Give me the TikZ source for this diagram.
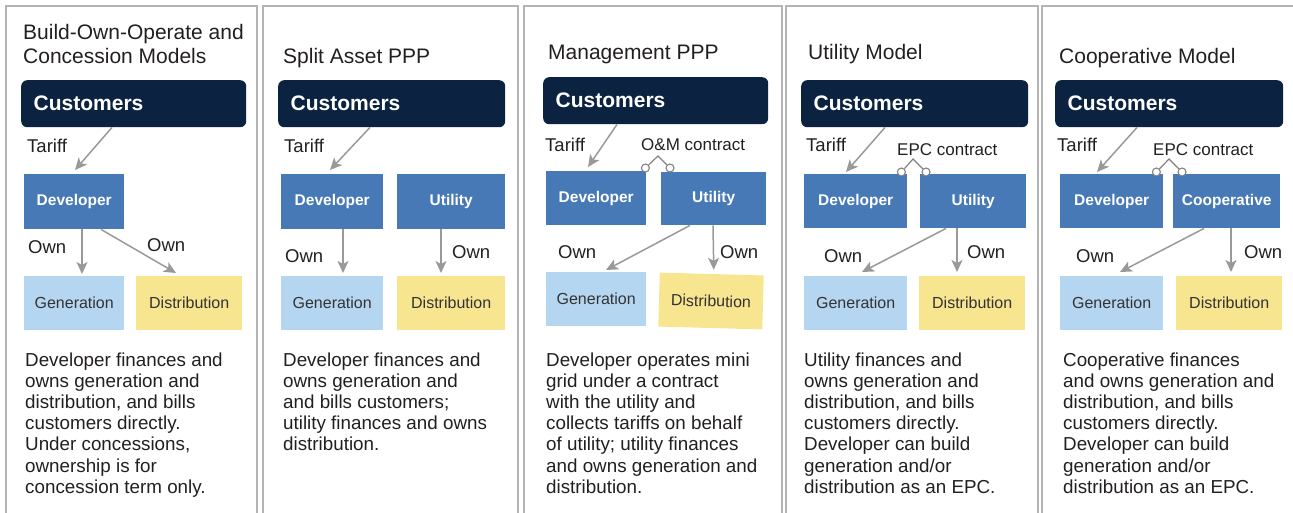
\documentclass[tikz,border=0pt]{standalone}
\usepackage{fontspec}
\setmainfont{Liberation Sans}
\usetikzlibrary{arrows.meta,calc}
\definecolor{navy}{HTML}{0B2341}
\definecolor{steel}{HTML}{4679B5}
\definecolor{genc}{HTML}{B5D6F0}
\definecolor{distc}{HTML}{F8E590}
\definecolor{arrc}{HTML}{999999}
\definecolor{panelc}{HTML}{B4B4B4}
\definecolor{ink}{HTML}{231F20}
\definecolor{boxink}{HTML}{333333}
\begin{document}
\begin{tikzpicture}[x=1pt,y=-1pt,
  panel/.style={draw=panelc,line width=1.5pt},
  cust/.style={anchor=north west,rounded corners=6pt,fill=navy,text=white,
    font=\fontsize{21}{24}\selectfont\bfseries,inner xsep=12.5pt,inner ysep=0pt,
    align=left,minimum height=47pt},
  bluebox/.style={anchor=north west,fill=steel,text=white,inner sep=0pt,
    font=\fontsize{15.5}{18}\selectfont\bfseries},
  genbox/.style={anchor=north west,fill=genc,text=boxink,inner sep=0pt,
    font=\fontsize{16}{18}\selectfont},
  distbox/.style={anchor=north west,fill=distc,text=boxink,inner sep=0pt,
    font=\fontsize{16}{18}\selectfont},
  lab/.style={anchor=west,inner sep=0pt,text=ink,font=\fontsize{18.5}{20}\selectfont},
  clab/.style={anchor=west,inner sep=0pt,text=ink,font=\fontsize{17}{20}\selectfont},
  ttl/.style={anchor=base west,inner sep=0pt,text=ink,font=\fontsize{21}{24}\selectfont},
  body/.style={anchor=base west,inner sep=0pt,text=ink,font=\fontsize{18.8}{21.2}\selectfont},
  arr/.style={draw=arrc,line width=1.5pt,-{Stealth[length=12pt,width=11pt,inset=3pt]}},
  conn/.style={draw=arrc!85!black,line width=1.2pt},
  ring/.style={circle,draw=arrc!85!black,fill=white,line width=1.1pt,minimum size=8pt,inner sep=0pt}
]
\useasboundingbox (0,0) rectangle (1293,512);
\clip (0,0) rectangle (1293,512);

% panels
\draw[panel] (6,530) |- (257,6) -- (257,530);
\draw[panel] (263,530) |- (518,6) -- (518,530);
\draw[panel] (524,530) |- (782,6) -- (782,530);
\draw[panel] (786,530) |- (1038,6) -- (1038,530);
\draw[panel] (1042,530) |- (1310,6) -- (1310,530);

% ---------- Panel 1 ----------
\node[ttl] (h1) at (23,39) {\parbox[t]{240pt}{\raggedright Build-Own-Operate and\\Concession Models}};
\node[cust,text width=200pt] (cust1) at (21,80) {Customers};
\node[bluebox,minimum width=100pt,minimum height=55pt] (dev1) at (24,174) {Developer};
\node[genbox,minimum width=100pt,minimum height=54pt] (gen1) at (24,276) {Generation};
\node[distbox,minimum width=106pt,minimum height=54pt] (dist1) at (136,276) {Distribution};
\node[lab] (tar1) at (27,146) {Tariff};
\node[lab] (own1a) at (28,247) {Own};
\node[lab] (own1b) at (147,245) {Own};
\draw[arr] ([xshift=91pt]cust1.south west) -- ([xshift=51pt,yshift=4pt]dev1.north west);
\draw[arr] ([xshift=58pt]dev1.south west) -- ([xshift=58pt,yshift=2pt]gen1.north west);
\draw[arr] ([xshift=77pt]dev1.south west) -- ([xshift=40pt,yshift=3pt]dist1.north west);
\node[body] (b1) at (25,366) {\parbox[t]{232pt}{\raggedright Developer finances and\\owns generation and\\distribution, and bills\\customers directly.\\Under concessions,\\ownership is for\\concession term only.}};

% ---------- Panel 2 ----------
\node[ttl] (h2) at (283,63) {Split Asset PPP};
\node[cust,text width=202pt] (cust2) at (278,80) {Customers};
\node[bluebox,minimum width=102pt,minimum height=55pt] (dev2) at (281,174) {Developer};
\node[bluebox,minimum width=108pt,minimum height=55pt] (util2) at (397,174) {Utility};
\node[genbox,minimum width=102pt,minimum height=54pt] (gen2) at (281,276) {Generation};
\node[distbox,minimum width=108pt,minimum height=54pt] (dist2) at (397,276) {Distribution};
\node[lab] (tar2) at (284,146) {Tariff};
\node[lab] (own2a) at (285,256) {Own};
\node[lab] (own2b) at (452,252) {Own};
\draw[arr] ([xshift=92pt]cust2.south west) -- ([xshift=49pt,yshift=4pt]dev2.north west);
\draw[arr] ([xshift=62pt]dev2.south west) -- ([xshift=62pt,yshift=3pt]gen2.north west);
\draw[arr] ([xshift=44pt]util2.south west) -- ([xshift=44pt,yshift=3pt]dist2.north west);
\node[body] (b2) at (283,366) {\parbox[t]{232pt}{\raggedright Developer finances and\\owns generation and\\and bills customers;\\utility finances and owns\\distribution.}};

% ---------- Panel 3 ----------
\node[ttl] (h3) at (548,59) {Management PPP};
\node[cust,text width=200pt] (cust3) at (543,77) {Customers};
\node[bluebox,minimum width=100pt,minimum height=54pt] (dev3) at (546,171) {Developer};
\node[bluebox,minimum width=105pt,minimum height=53pt] (util3) at (661,172) {Utility};
\node[genbox,minimum width=100pt,minimum height=54pt] (gen3) at (546,272) {Generation};
\node[distbox,anchor=center,rotate=-1.6,minimum width=104pt,minimum height=54pt] (dist3) at (711,301) {Distribution};
\node[lab] (tar3) at (545,145) {Tariff};
\node[clab] (om3) at (641,145) {O\&M contract};
\node[lab] (own3a) at (558,252) {Own};
\node[lab] (own3b) at (720,252) {Own};
\draw[arr] ([xshift=74pt]cust3.south west) -- ([xshift=42pt,yshift=4pt]dev3.north west);
\draw[arr] ([xshift=29pt]util3.south west) -- ([xshift=60pt,yshift=2pt]gen3.north west);
\draw[arr] ([xshift=52pt]util3.south west) -- ([xshift=2pt,yshift=4pt]dist3.north);
\node[ring] (r3a) at ([xshift=-1pt,yshift=3pt]dev3.north east) {};
\node[ring] (r3b) at ([xshift=9pt,yshift=4pt]util3.north west) {};
\coordinate (ap3) at (658,156);
\draw[conn] (r3a) -- (ap3) -- (r3b);
\node[body] (b3) at (546,366) {\parbox[t]{232pt}{\raggedright Developer operates mini\\grid under a contract\\with the utility and\\collects tariffs on behalf\\of utility; utility finances\\and owns generation and\\distribution.}};

% ---------- Panel 4 ----------
\node[ttl] (h4) at (808,59) {Utility Model};
\node[cust,text width=202pt] (cust4) at (801,80) {Customers};
\node[bluebox,minimum width=103pt,minimum height=54pt] (dev4) at (804,174) {Developer};
\node[bluebox,minimum width=106pt,minimum height=54pt] (util4) at (920,174) {Utility};
\node[genbox,minimum width=103pt,minimum height=54pt] (gen4) at (804,276) {Generation};
\node[distbox,minimum width=106pt,minimum height=54pt] (dist4) at (919,276) {Distribution};
\node[lab] (tar4) at (806,145) {Tariff};
\node[clab] (epc4) at (897,150) {EPC contract};
\node[lab] (own4a) at (824,256) {Own};
\node[lab] (own4b) at (967,252) {Own};
\draw[arr] ([xshift=84pt]cust4.south west) -- ([xshift=42pt,yshift=2pt]dev4.north west);
\draw[arr] ([xshift=26pt]util4.south west) -- ([xshift=58pt,yshift=4pt]gen4.north west);
\draw[arr] ([xshift=37pt]util4.south west) -- ([xshift=38pt,yshift=4pt]dist4.north west);
\node[ring] (r4a) at ([xshift=-6pt,yshift=2pt]dev4.north east) {};
\node[ring] (r4b) at ([xshift=6pt,yshift=2pt]util4.north west) {};
\coordinate (ap4) at (913,159);
\draw[conn] (r4a) -- (ap4) -- (r4b);
\node[body] (b4) at (804,366) {\parbox[t]{232pt}{\raggedright Utility finances and\\owns generation and\\distribution, and bills\\customers directly.\\Developer can build\\generation and/or\\distribution as an EPC.}};

% ---------- Panel 5 ----------
\node[ttl] (h5) at (1059,63) {Cooperative Model};
\node[cust,text width=203pt] (cust5) at (1055,80) {Customers};
\node[bluebox,minimum width=103pt,minimum height=54pt] (dev5) at (1060,174) {Developer};
\node[bluebox,minimum width=107pt,minimum height=54pt] (coop5) at (1173,174) {Cooperative};
\node[genbox,minimum width=103pt,minimum height=54pt] (gen5) at (1060,276) {Generation};
\node[distbox,minimum width=106pt,minimum height=54pt] (dist5) at (1176,276) {Distribution};
\node[lab] (tar5) at (1057,145) {Tariff};
\node[clab] (epc5) at (1153,150) {EPC contract};
\node[lab] (own5a) at (1076,256) {Own};
\node[lab] (own5b) at (1244,252) {Own};
\draw[arr] ([xshift=82pt]cust5.south west) -- ([xshift=37pt,yshift=2pt]dev5.north west);
\draw[arr] ([xshift=31pt]coop5.south west) -- ([xshift=60pt,yshift=4pt]gen5.north west);
\draw[arr] ([xshift=58pt]coop5.south west) -- ([xshift=55pt,yshift=4pt]dist5.north west);
\node[ring] (r5a) at ([xshift=-7pt,yshift=2pt]dev5.north east) {};
\node[ring] (r5b) at ([xshift=9pt,yshift=2pt]coop5.north west) {};
\coordinate (ap5) at (1169,159);
\draw[conn] (r5a) -- (ap5) -- (r5b);
\node[body] (b5) at (1063,366) {\parbox[t]{232pt}{\raggedright Cooperative finances\\and owns generation and\\distribution, and bills\\customers directly.\\Developer can build\\generation and/or\\distribution as an EPC.}};
\end{tikzpicture}
\end{document}
